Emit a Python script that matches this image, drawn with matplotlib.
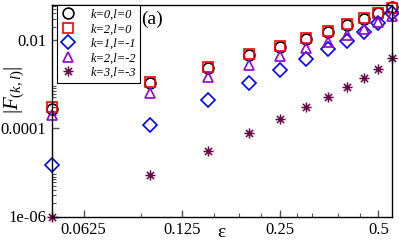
import numpy as np
import matplotlib
matplotlib.use("Agg")
import matplotlib.pyplot as plt
from matplotlib.path import Path
from matplotlib.ticker import FixedLocator, NullFormatter

plt.rcParams['font.family'] = ['Liberation Serif', 'DejaVu Serif']
plt.rcParams['mathtext.fontset'] = 'custom'
plt.rcParams['mathtext.rm'] = 'Liberation Serif'
plt.rcParams['mathtext.it'] = 'Liberation Serif:italic'

eps = [0.05, 0.1, 0.15, 0.2, 0.25, 0.3, 0.35, 0.4, 0.45, 0.5, 0.55]
f00 = [2.8e-4, 1.04e-3, 2.28e-3, 4.5e-3, 7.0e-3, 1.05e-2, 1.55e-2, 2.2e-2, 3.0e-2, 4.0e-2, 5.6e-2]
f20 = [3.0e-4, 1.1e-3, 2.4e-3, 4.7e-3, 7.3e-3, 1.1e-2, 1.6e-2, 2.25e-2, 3.1e-2, 4.1e-2, 5.4e-2]
f11 = [1.5e-5, 1.18e-4, 4.4e-4, 1.04e-3, 2.1e-3, 3.8e-3, 6.4e-3, 9.6e-3, 1.5e-2, 2.4e-2, 4.0e-2]
f22 = [2.0e-4, 6.2e-4, 1.47e-3, 2.7e-3, 4.3e-3, 6.5e-3, 9.2e-3, 1.3e-2, 1.75e-2, 2.5e-2, 3.5e-2]
f33 = [1.0e-6, 8.7e-6, 3.0e-5, 7.7e-5, 1.62e-4, 3.0e-4, 5.0e-4, 8.4e-4, 1.4e-3, 2.2e-3, 3.85e-3]

xticks = [0.0625, 0.125, 0.25, 0.5]
xticklabels = ['0.0625', '0.125', '0.25', '0.5']
xminor = [0.09375, 0.15625, 0.1875, 0.21875, 0.28125, 0.3125, 0.375, 0.4375]
yticks = [1e-6, 1e-4, 1e-2]
yticklabels = ['1e-06', '0.0001', '0.01']

# asterisk marker (8 spokes)
verts = []
codes = []
for a in [0, 45, 90, 135]:
    r = np.deg2rad(a)
    verts += [(-np.cos(r), -np.sin(r)), (np.cos(r), np.sin(r))]
    codes += [Path.MOVETO, Path.LINETO]
star = Path(verts, codes)

fig = plt.figure(figsize=(3.99, 2.41), dpi=100)
ax = fig.add_axes([52/399, 1-216.5/241, 340/399, 211.5/241])

ms = 7.8
mew = 1.2
ax.plot(eps, f00, 'o', ms=ms, mfc='none', mec='black', mew=mew, clip_on=False, label='k=0,l=0')
ax.plot(eps, f20, 's', ms=ms-0.6, mfc='none', mec='red', mew=mew, clip_on=False, label='k=2,l=0')
ax.plot(eps, f11, 'D', ms=ms-1.0, mfc='none', mec='blue', mew=mew, clip_on=False, label='k=1,l=-1')
ax.plot(eps, f22, '^', ms=ms, mfc='none', mec='#9400d3', mew=mew, clip_on=False, label='k=2,l=-2')
ax.plot(eps, f33, marker=star, ls='none', ms=ms-0.5, mec='#670748', mew=1.1, clip_on=False, label='k=3,l=-3')

ax.set_xscale('log', base=2)
ax.set_yscale('log')
ax.set_xlim(0.05, 0.55)
ax.set_ylim(1e-6, 0.062)

ax.set_xticks(xticks)
ax.set_xticklabels(xticklabels)
ax.xaxis.set_minor_locator(FixedLocator(xminor))
ax.xaxis.set_minor_formatter(NullFormatter())
ax.set_yticks(yticks)
ax.set_yticklabels(yticklabels)
yminor = [m * 10.0**e for e in [-6, -4, -2] for m in range(2, 10)]
ax.yaxis.set_minor_locator(FixedLocator(yminor))
ax.yaxis.set_minor_formatter(NullFormatter())

ax.tick_params(which='both', direction='in', top=False, right=False, labelsize=12, color='#555555')
ax.tick_params(which='major', length=5, width=1, pad=4)
ax.tick_params(which='minor', length=3, width=0.8)
for s in ax.spines.values():
    s.set_linewidth(1.0)

ax.set_xlabel(r'$\mathrm{\varepsilon}$', fontsize=14)
ax.xaxis.set_label_coords(0.5, -0.035)
ax.set_ylabel(r'$|F_{(k,l)}|$', fontsize=15)
ax.yaxis.set_label_coords(-0.075, 0.60)
ax.text(0.295, 0.93, '(a)', transform=ax.transAxes, fontsize=14, ha='center', va='center')

leg = ax.legend(loc='upper left', bbox_to_anchor=(0.015, 1.0), borderaxespad=0,
                prop={'family': 'Liberation Serif', 'style': 'italic', 'size': 9},
                fancybox=False, edgecolor='black', framealpha=1, handlelength=1.2,
                handletextpad=1.2, labelspacing=0.2, borderpad=0.3)
leg.get_frame().set_linewidth(0.8)

plt.savefig('out.png', dpi=100)
